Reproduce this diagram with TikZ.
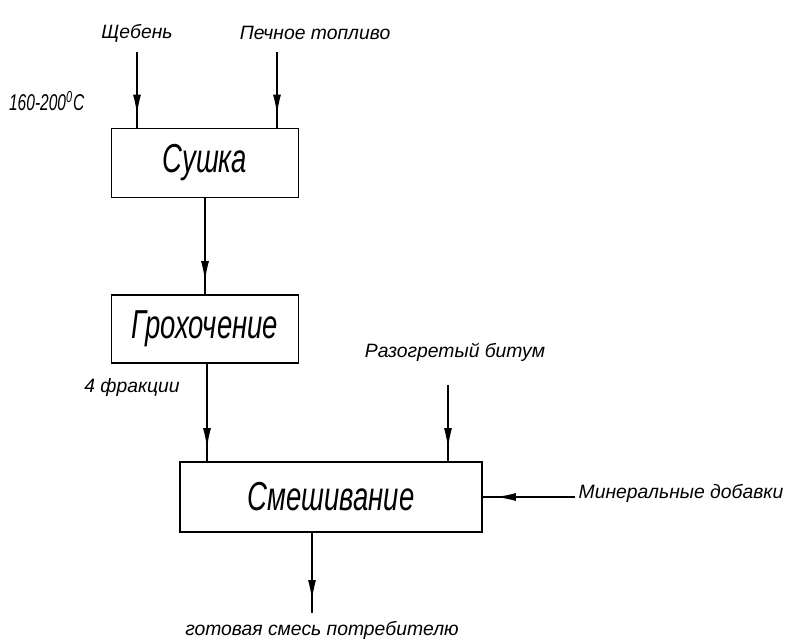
\documentclass[tikz,border=0pt]{standalone}
\usepackage{fontspec}
\setmainfont{Liberation Sans}
\newfontfamily\gostwide{Liberation Sans}[FakeStretch=1.0]
\newfontfamily\gostnarrow{Liberation Sans}[FakeStretch=0.68]
\usetikzlibrary{calc}
\usetikzlibrary{arrows.meta}
\usetikzlibrary{decorations.markings}
\tikzstyle{stagebox} = [draw, line width=1.1pt, inner sep=0pt, font=\gostnarrow\itshape\fontsize{23}{23}\selectfont]
\tikzstyle{flowlabel} = [inner sep=1pt, font=\gostwide\itshape\fontsize{11}{11}\selectfont]
\tikzstyle{flowline} = [line width=1.1pt, postaction={decorate},
    decoration={markings, mark=at position -0.24cm with {\arrow{Latex[length=0.42cm,width=0.16cm]}}}]

\begin{document}
\begin{tikzpicture}[x=0.02cm, y=-0.02cm]
    \useasboundingbox (0,0) rectangle (795,644);

    % stages
    \node[stagebox, minimum width=3.74cm, minimum height=1.38cm] (sushka) at (205,163) {Сушка};
    \node[stagebox, minimum width=3.74cm, minimum height=1.36cm] (grokh) at (205,329) {Грохочение};
    \node[stagebox, minimum width=6.04cm, minimum height=1.40cm] (smesh) at (331,497) {Смешивание};

    % inputs and outputs
    \node[flowlabel] (sheben) at (137,33) {Щебень};
    \node[flowlabel] (toplivo) at (315,33) {Печное топливо};
    \node[flowlabel, anchor=west, font=\gostnarrow\itshape\fontsize{13}{13}\selectfont] (temp) at (7,101) {160-200\textsuperscript{0}C};
    \node[flowlabel] (frakcii) at (132,388) {4 фракции};
    \node[flowlabel] (bitum) at (455,352) {Разогретый битум};
    \node[flowlabel] (dobavki) at (681,493) {Минеральные добавки};
    \node[flowlabel] (gotovaya) at (322,630) {готовая смесь потребителю};

    \coordinate (sheben_in) at (137,52);
    \coordinate (toplivo_in) at (277,52);
    \coordinate (grokh_out) at ($(grokh.south)+(2,0)$);
    \coordinate (bitum_in) at (448,385);
    \coordinate (dobavki_in) at (575,497);
    \coordinate (gotovaya_out) at (312,613);

    \draw[flowline] (sheben_in) -- (sheben_in |- sushka.north);
    \draw[flowline] (toplivo_in) -- (toplivo_in |- sushka.north);
    \draw[flowline] (sushka.south) -- (grokh.north);
    \draw[flowline] (grokh_out) -- (grokh_out |- smesh.north);
    \draw[flowline] (bitum_in) -- (bitum_in |- smesh.north);
    \draw[flowline] (dobavki_in) -- (dobavki_in -| smesh.east);
    \draw[flowline] (gotovaya_out |- smesh.south) -- (gotovaya_out);
\end{tikzpicture}
\end{document}
